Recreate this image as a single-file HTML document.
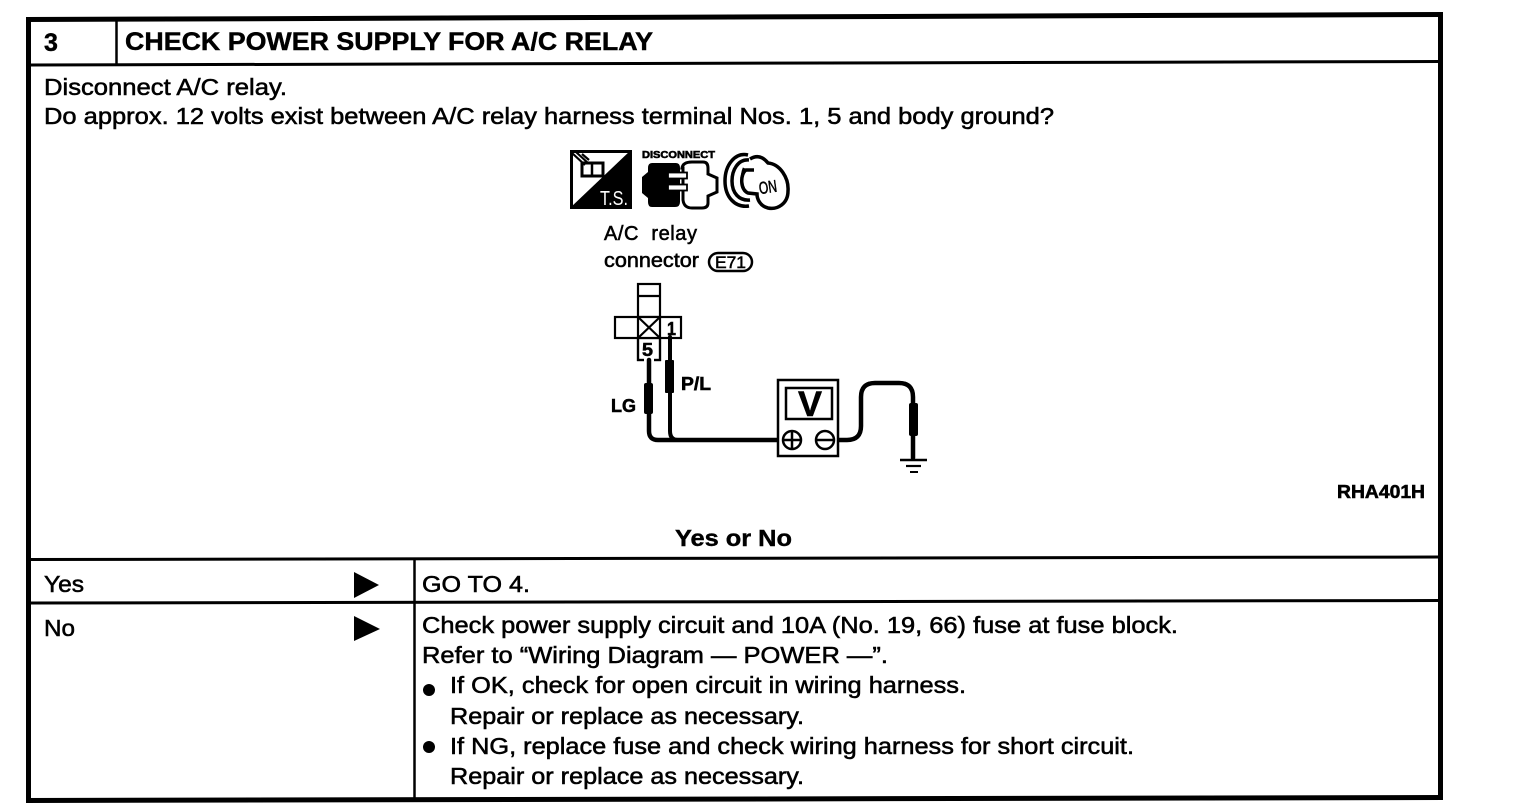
<!DOCTYPE html>
<html lang="en">
<head>
<meta charset="utf-8">
<title>Check power supply for A/C relay</title>
<style>
html,body{margin:0;padding:0;background:#fff;width:1520px;height:812px;overflow:hidden}
svg{display:block}
text{font-family:"Liberation Sans",Arial,sans-serif;fill:#000;stroke:#000;stroke-width:.55px}
.b{font-size:23px}
.h{font-weight:bold;font-size:25px;stroke-width:.45px}
.s{font-size:20px}
</style>
</head>
<body>
<svg width="1520" height="812" viewBox="0 0 1520 812" xmlns="http://www.w3.org/2000/svg">
<rect width="1520" height="812" fill="#fff"/>

<!-- frame and rules -->
<g stroke="#000" fill="none">
  <path d="M26 19.500L1443 14.500" stroke-width="5"/>
  <path d="M1440.500 14V798" stroke-width="5"/>
  <path d="M28.500 18V801" stroke-width="5"/>
  <path d="M26 800.500L1443 797.500" stroke-width="5"/>
  <path d="M28 65L1440 61.500" stroke-width="3"/>
  <path d="M28 559.500L1440 557" stroke-width="3"/>
  <path d="M28 603L1440 600.500" stroke-width="3"/>
  <path d="M116.500 18V65" stroke-width="2.500"/>
  <path d="M414.500 559V799" stroke-width="2.500"/>
</g>

<!-- header -->
<text x="44" y="51" class="h" textLength="14">3</text>
<text x="125" y="50" class="h" textLength="528" lengthAdjust="spacingAndGlyphs">CHECK POWER SUPPLY FOR A/C RELAY</text>

<!-- question -->
<text x="44" y="95" class="b" textLength="243" lengthAdjust="spacingAndGlyphs">Disconnect A/C relay.</text>
<text x="44" y="124" class="b" textLength="1010" lengthAdjust="spacingAndGlyphs">Do approx. 12 volts exist between A/C relay harness terminal Nos. 1, 5 and body ground?</text>

<!-- T.S. icon -->
<rect x="571.500" y="151.500" width="59" height="56" fill="#fff" stroke="#000" stroke-width="3"/>
<path d="M631 150V208H570Z" fill="#000"/>
<text x="600" y="205" font-size="20" textLength="28" lengthAdjust="spacingAndGlyphs" style="fill:#fff;stroke:none">T.S.</text>
<g fill="none" stroke="#000">
  <rect x="582" y="163" width="21" height="13" stroke-width="3"/>
  <path d="M592 163V176" stroke-width="2.500"/>
  <path d="M572 153L585 165M576 152L588 163M582 154L589 160" stroke-width="2.200"/>
</g>

<!-- disconnect icon -->
<text x="642" y="158" font-size="10" font-weight="bold" textLength="73" lengthAdjust="spacingAndGlyphs" style="stroke-width:.6px">DISCONNECT</text>
<path d="M682 168Q683 162 692 162H703Q708 162 708 168V174L717 178V192L708 196V203Q708 208 702 208H692Q684 208 683 200V168Z" fill="#fff" stroke="#000" stroke-width="3"/>
<path d="M652 163H676Q680 163 680 168V202Q680 207 675 207H652Q648 207 648 202V198L642 193V177L648 172V168Q648 163 652 163Z" fill="#000"/>
<g fill="#fff" stroke="#000" stroke-width="1.800">
  <rect x="668" y="172.500" width="19" height="6"/>
  <rect x="668" y="184.500" width="19" height="6"/>
</g>

<!-- key icon -->
<g fill="none" stroke="#000">
  <path d="M748 155C735 152 725 165 725 181C725 197 735 208 749 206" stroke-width="3.500"/>
  <path d="M749 160C738 159 732 170 732 181C732 193 739 201 750 200" stroke-width="3.500"/>
  <path d="M750 159C758 154 764 158 768 163C780 164 789 178 788 191C788 204 777 210 768 208C760 206 757 199 757 194L748 193C740 190 740 174 746 170L754 170" fill="#fff" stroke-width="3.500"/>
  <path d="M744 168C741 175 741 188 746 191" stroke-width="2.500"/>
</g>
<text x="759" y="193" font-size="17" textLength="18" lengthAdjust="spacingAndGlyphs" transform="rotate(-8 767 188)">ON</text>

<!-- connector caption -->
<text x="604" y="240" class="s" textLength="93" xml:space="preserve">A/C  relay</text>
<text x="604" y="267" class="s" textLength="95" lengthAdjust="spacingAndGlyphs">connector</text>
<rect x="709" y="253" width="43" height="18" rx="9" fill="#fff" stroke="#000" stroke-width="2.500"/>
<text x="715" y="268" font-size="17" textLength="31" lengthAdjust="spacingAndGlyphs">E71</text>

<!-- connector -->
<g fill="none" stroke="#000" stroke-width="2.200">
  <rect x="638" y="284" width="22" height="76"/>
  <path d="M638 296H660"/>
  <rect x="615" y="317" width="66" height="21" fill="#fff"/>
  <rect x="638" y="317" width="22" height="21" fill="#fff"/>
  <path d="M638 317L660 338M660 317L638 338"/>
  <path d="M638 338V360H660V338"/>
</g>
<rect x="644" y="358" width="10" height="4" fill="#fff"/>
<text x="667" y="335" font-size="18" font-weight="bold" textLength="9" lengthAdjust="spacingAndGlyphs">1</text>
<text x="642" y="356" font-size="18" font-weight="bold" textLength="11" lengthAdjust="spacingAndGlyphs">5</text>

<!-- wires -->
<g fill="none" stroke="#000" stroke-linecap="round">
  <path d="M649 360V431Q649 440 658 440H782" stroke-width="4.500"/>
  <path d="M670 337V431Q670 440 678 440" stroke-width="4"/>
  <path d="M837 440H847Q861 440 861 426V397Q861 383 875 383H899Q913 383 913 397V458" stroke-width="4.500"/>
</g>
<rect x="644" y="383" width="9" height="31" rx="2" fill="#000"/>
<rect x="665" y="360" width="9" height="33" rx="1" fill="#000"/>
<rect x="909" y="403" width="9" height="33" rx="2" fill="#000"/>
<text x="611" y="412" font-size="18" font-weight="bold" textLength="25" lengthAdjust="spacingAndGlyphs">LG</text>
<text x="681" y="390" font-size="18" font-weight="bold" textLength="30" lengthAdjust="spacingAndGlyphs">P/L</text>

<!-- meter -->
<rect x="778" y="380" width="60" height="76" fill="#fff" stroke="#000" stroke-width="2.500"/>
<rect x="786" y="388" width="46" height="31" fill="#fff" stroke="#000" stroke-width="2.500"/>
<text x="798" y="416" font-size="35" font-weight="bold" textLength="24" lengthAdjust="spacingAndGlyphs">V</text>
<g fill="#fff" stroke="#000" stroke-width="2.500">
  <circle cx="792" cy="440" r="9"/>
  <circle cx="825" cy="440" r="9"/>
  <path d="M783 440H801M792 431V449M816 440H834" fill="none"/>
</g>

<!-- ground -->
<g stroke="#000" fill="none">
  <path d="M900 460H927" stroke-width="2.500"/>
  <path d="M906 466H921" stroke-width="2.200"/>
  <path d="M910 472H918" stroke-width="2"/>
</g>

<text x="1337" y="498" font-size="18" font-weight="bold" textLength="88" lengthAdjust="spacingAndGlyphs">RHA401H</text>
<text x="675" y="546" class="b" font-weight="bold" textLength="117" lengthAdjust="spacingAndGlyphs" style="stroke-width:.4px">Yes or No</text>

<!-- yes row -->
<text x="44" y="592" class="b" textLength="40" lengthAdjust="spacingAndGlyphs">Yes</text>
<path d="M354 572L379 585L354 598Z" fill="#000"/>
<text x="422" y="592" class="b" textLength="108" lengthAdjust="spacingAndGlyphs">GO TO 4.</text>

<!-- no row -->
<text x="44" y="636" class="b" textLength="31" lengthAdjust="spacingAndGlyphs">No</text>
<path d="M354 616L380 629L354 641Z" fill="#000"/>
<text x="422" y="633" class="b" textLength="756" lengthAdjust="spacingAndGlyphs">Check power supply circuit and 10A (No. 19, 66) fuse at fuse block.</text>
<text x="422" y="663" class="b" textLength="466" lengthAdjust="spacingAndGlyphs">Refer to “Wiring Diagram — POWER —”.</text>
<circle cx="429" cy="690" r="6" fill="#000"/>
<text x="450" y="693" class="b" textLength="516" lengthAdjust="spacingAndGlyphs">If OK, check for open circuit in wiring harness.</text>
<text x="450" y="724" class="b" textLength="354" lengthAdjust="spacingAndGlyphs">Repair or replace as necessary.</text>
<circle cx="429" cy="747" r="6" fill="#000"/>
<text x="450" y="754" class="b" textLength="684" lengthAdjust="spacingAndGlyphs">If NG, replace fuse and check wiring harness for short circuit.</text>
<text x="450" y="784" class="b" textLength="354" lengthAdjust="spacingAndGlyphs">Repair or replace as necessary.</text>
</svg>
</body>
</html>
